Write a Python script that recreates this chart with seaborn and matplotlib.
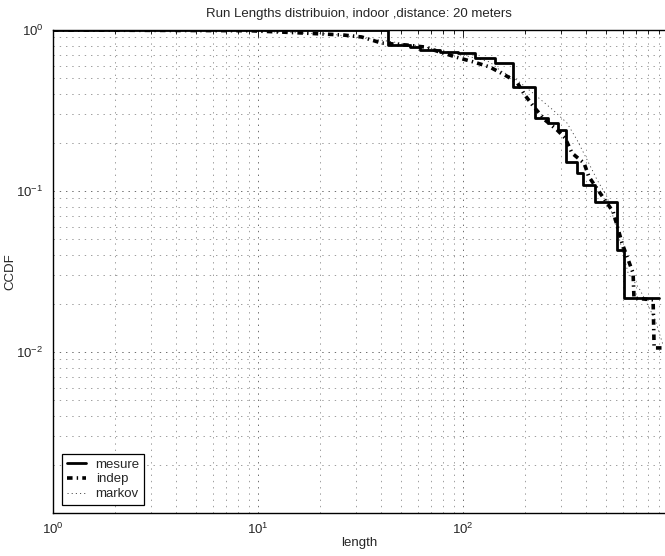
import numpy as np
import pandas as pd
import matplotlib
matplotlib.use("Agg")
import matplotlib.pyplot as plt
import matplotlib.ticker as mticker
import seaborn as sns

# ---- data ----
mesure_x = [1, 43, 55, 62, 77, 94, 114, 143, 175, 224, 260, 291, 318, 360, 385, 440, 564, 610, 903]
mesure_y = [1.0, 0.81, 0.78, 0.75, 0.73, 0.72, 0.67, 0.62, 0.44, 0.284, 0.265, 0.239, 0.151, 0.129,
            0.109, 0.085, 0.043, 0.0216, 0.0216]

indep_x = [1, 9.1, 16.5, 26, 32, 40, 52.7, 65, 77, 92, 114, 135, 160, 183, 200, 222, 251, 288, 315,
           340, 389, 412, 456, 540, 597, 675, 682, 845, 855, 966]
indep_y = [1.0, 0.99, 0.958, 0.931, 0.905, 0.83, 0.807, 0.784, 0.73, 0.68, 0.63, 0.589, 0.525, 0.475,
           0.395, 0.332, 0.276, 0.239, 0.213, 0.172, 0.149, 0.122, 0.101, 0.0741, 0.0473, 0.0309,
           0.0216, 0.0211, 0.0106, 0.0106]

markov_x = [1, 9.1, 22.5, 39.4, 61.7, 96.7, 135, 151, 183, 219, 275, 321, 360, 403, 451, 504, 564,
            638, 730, 864, 946]
markov_y = [1.0, 0.986, 0.944, 0.867, 0.795, 0.709, 0.633, 0.564, 0.489, 0.406, 0.318, 0.265, 0.207,
            0.156, 0.117, 0.092, 0.0574, 0.031, 0.0243, 0.0159, 0.011]

xtick_vals = [1, 10, 100]
xtick_labels = ["$10^{0}$", "$10^{1}$", "$10^{2}$"]
ytick_vals = [1e-2, 1e-1, 1]
ytick_labels = ["$10^{-2}$", "$10^{-1}$", "$10^{0}$"]

title = "Run Lengths distribuion, indoor ,distance: 20 meters"

# ---- style ----
sns.set_style("white")
plt.rcParams["font.family"] = ["Liberation Sans", "DejaVu Sans"]
plt.rcParams["mathtext.fontset"] = "custom"
plt.rcParams["mathtext.rm"] = "Liberation Sans"
plt.rcParams["mathtext.it"] = "Liberation Sans:italic"
plt.rcParams["mathtext.default"] = "regular"
plt.rcParams["lines.scale_dashes"] = False

fs = 9.5

fig = plt.figure(figsize=(6.65, 5.56), dpi=100)
ax = fig.add_axes([53 / 665, (556 - 513) / 556, 612 / 665, 483 / 556])

df_m = pd.DataFrame({"length": mesure_x, "CCDF": mesure_y})
df_i = pd.DataFrame({"length": indep_x, "CCDF": indep_y})
df_k = pd.DataFrame({"length": markov_x, "CCDF": markov_y})

sns.lineplot(data=df_m, x="length", y="CCDF", ax=ax, estimator=None, sort=False,
             drawstyle="steps-post", color="black", lw=2.0, label="mesure", zorder=5)
sns.lineplot(data=df_i, x="length", y="CCDF", ax=ax, estimator=None, sort=False,
             color="black", lw=2.6, label="indep", zorder=4)
ax.lines[-1].set_dashes((4.0, 3.0, 1.0, 3.0))
sns.lineplot(data=df_k, x="length", y="CCDF", ax=ax, estimator=None, sort=False,
             color="#333333", lw=0.6, label="markov", zorder=3)
ax.lines[-1].set_dashes((0.8, 2.2))

ax.set_xscale("log")
ax.set_yscale("log")
ax.set_xlim(1, 966)
ax.set_ylim(1e-3, 1)

ax.xaxis.set_major_locator(mticker.FixedLocator(xtick_vals))
ax.xaxis.set_major_formatter(mticker.FixedFormatter(xtick_labels))
ax.yaxis.set_major_locator(mticker.FixedLocator(ytick_vals))
ax.yaxis.set_major_formatter(mticker.FixedFormatter(ytick_labels))
ax.xaxis.set_minor_locator(mticker.LogLocator(base=10, subs=np.arange(2, 10), numticks=20))
ax.yaxis.set_minor_locator(mticker.LogLocator(base=10, subs=np.arange(2, 10), numticks=20))
ax.xaxis.set_minor_formatter(mticker.NullFormatter())
ax.yaxis.set_minor_formatter(mticker.NullFormatter())

ax.tick_params(which="both", direction="in", top=True, right=False, labelsize=fs,
               color="black", width=0.6)
ax.tick_params(which="major", length=5)
ax.tick_params(axis="x", which="major", pad=6)
ax.tick_params(axis="y", which="major", pad=7)
ax.tick_params(which="minor", length=3)

ax.grid(True, which="major", linestyle=(0, (1, 3.5)), color="#555555", lw=0.6)
ax.grid(True, which="minor", linestyle=(0, (1, 3.5)), color="#777777", lw=0.5)

for s in ["left", "bottom", "top"]:
    ax.spines[s].set_linewidth(1.0)
    ax.spines[s].set_color("black")
ax.spines["right"].set_visible(False)

ax.set_xlabel("length", fontsize=fs, labelpad=0)
ax.set_ylabel("CCDF", fontsize=fs)
ax.yaxis.set_label_coords(-37 / 612, 0.5)
ax.set_title(title, fontsize=fs, pad=9)

leg = ax.legend(loc="lower left", bbox_to_anchor=(0.0147, 0.0166), borderaxespad=0,
                fontsize=fs, frameon=True, fancybox=False, edgecolor="black",
                handlelength=1.5, handletextpad=0.7, labelspacing=0.2,
                borderpad=0.35)
leg.get_frame().set_linewidth(0.9)
leg.get_frame().set_facecolor("white")
leg.get_frame().set_alpha(1)

fig.savefig("out.png", dpi=100)
